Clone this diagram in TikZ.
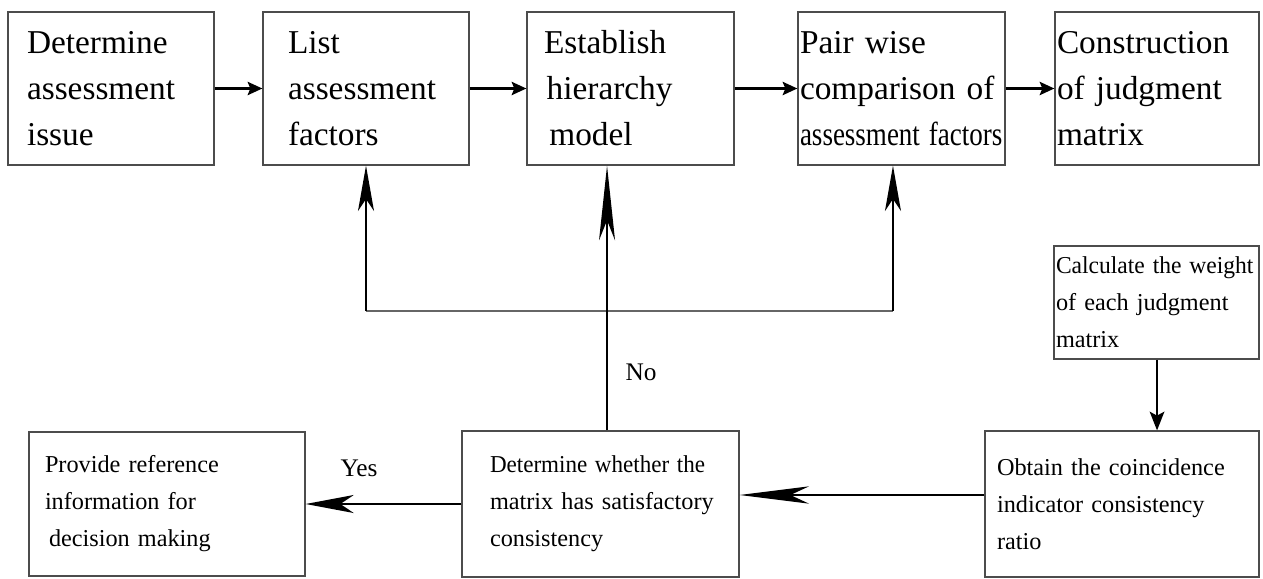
\documentclass[tikz,border=0pt]{standalone}
\usepackage{fontspec}
\usepackage{graphicx}
\setmainfont{Liberation Serif}[WordSpace=0.8]
\usetikzlibrary{arrows.meta,calc}
\begin{document}
\begin{tikzpicture}[x=0.75pt,y=-0.75pt,
  box/.style={draw=black!70, line width=1pt, rectangle, inner ysep=0pt, align=left},
  topfont/.style={font=\fontsize{25}{34.5}\selectfont},
  botfont/.style={font=\fontsize{18.2}{27.75}\selectfont},
  flow/.style={line width=1.6pt, -{Stealth[length=11pt,width=10pt,inset=2pt]}},
  uparrow/.style={line width=1.6pt, -{Stealth[length=34pt,width=12pt,inset=9pt]}},
  longarrow/.style={line width=1.6pt, -{Stealth[length=56pt,width=12pt,inset=15pt]}},
  lbl/.style={font=\fontsize{19}{22}\selectfont, inner sep=0pt}
]
\useasboundingbox (0,0) rectangle (1263,578);

% top row
\node[box, topfont, minimum width=154.5pt, minimum height=114.75pt, inner xsep=14.25pt, text width=126pt] (A) at (111,88.5)
  {Determine\\assessment\\issue};
\node[box, topfont, minimum width=154.5pt, minimum height=114.75pt, inner xsep=18.75pt, text width=117pt] (B) at (366,88.5)
  {List\\assessment\\factors};
\node[box, topfont, minimum width=155.25pt, minimum height=114.75pt, inner xsep=12.75pt, text width=129.75pt] (C) at (630.5,88.5)
  {Establish\\\hspace*{2pt}hierarchy\\\hspace*{4pt}model};
\node[box, topfont, minimum width=155.25pt, minimum height=114.75pt, inner xsep=1.5pt, text width=152.25pt] (D) at (901.5,88.5)
  {Pair wise\\\mbox{comparison of}\\\mbox{\scalebox{0.81}[1]{assessment factors}}};
\node[box, topfont, minimum width=153pt, minimum height=114.75pt, inner xsep=1.5pt, text width=150pt] (E) at (1157,88.5)
  {Construction\\of judgment\\matrix};

% right column and bottom row
\node[box, botfont, minimum width=153.75pt, minimum height=84.75pt, inner xsep=1.5pt, text width=150.75pt] (F) at (1156.5,302.5)
  {\mbox{\scalebox{0.97}[1]{Calculate the weight}}\\of each judgment\\matrix};
\node[box, botfont, minimum width=205.5pt, minimum height=109.5pt, inner xsep=9pt, text width=187.5pt] (G) at (1122,504)
  {\mbox{Obtain the coincidence}\\\mbox{indicator consistency}\\ratio\par\vspace*{14pt}};
\node[box, botfont, minimum width=207.75pt, minimum height=109.5pt, inner xsep=21pt, text width=165.75pt] (H) at (600.5,504)
  {\mbox{\scalebox{0.95}[1]{Determine whether the}}\\\mbox{matrix has satisfactory}\\consistency};
\node[box, botfont, minimum width=207pt, minimum height=108pt, inner xsep=12pt, text width=183pt] (I) at (167,504)
  {\mbox{Provide reference}\\\mbox{information for}\\\hspace*{3pt}\mbox{decision making}};

% top flow
\draw[flow] (A.east) -- (B.west);
\draw[flow] (B.east) -- (C.west);
\draw[flow] (C.east) -- (D.west);
\draw[flow] (D.east) -- (E.west);

% feedback loop
\coordinate (lb) at (B.south |- 0,311);
\coordinate (dS) at ([xshift=-6.4pt]D.south);
\coordinate (rb) at (dS |- 0,311);
\draw[line width=0.9pt, black!60] (lb) -- (rb);
\draw[uparrow] (lb) -- (B.south);
\draw[uparrow] (rb) -- (dS);

\coordinate (hN) at ([xshift=4.9pt]H.north);
\draw[longarrow] (hN) -- (hN |- C.south);

% right column
\coordinate (fS) at ([xshift=0.4pt]F.south);
\draw[line width=1.6pt, -{Stealth[length=14pt,width=11pt,inset=3pt]}] (fS) -- (fS |- G.north);

% bottom arrows
\draw[line width=1.6pt, -{Stealth[length=52pt,width=13pt,inset=14pt]}] ([yshift=6.75pt]G.west) -- ([yshift=6.75pt]H.east);
\draw[line width=1.6pt, -{Stealth[length=36pt,width=13.5pt,inset=10pt]}] (H.west) -- (I.east);

% labels
\node[lbl] (yes) at (359,468) {Yes};
\node[lbl] (no) at (641,372) {No};
\end{tikzpicture}
\end{document}
